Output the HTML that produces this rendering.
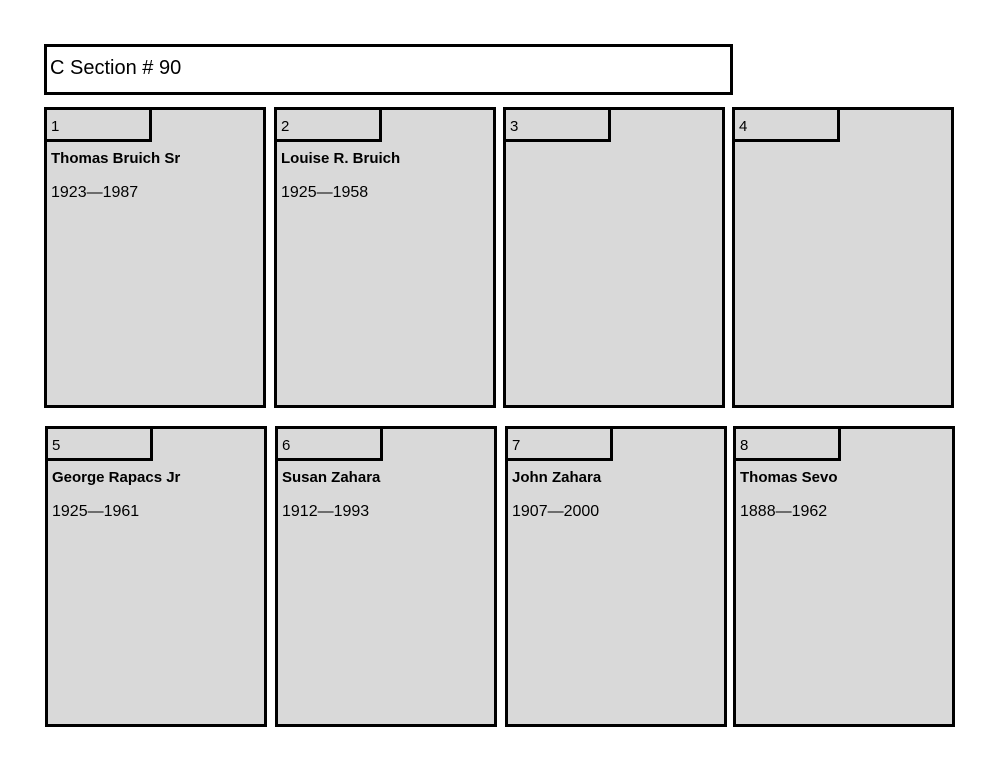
<!DOCTYPE html>
<html><head><meta charset="utf-8"><style>
body{margin:0;width:1000px;height:773px;background:#fff;position:relative;font-family:"Liberation Sans",sans-serif;color:#000;overflow:hidden}
.t{position:absolute;left:44px;top:44px;width:683px;height:45px;border:3px solid #000;font-size:20px}
.t span{position:absolute;left:3px;top:10px}
.c{position:absolute;width:216px;height:295px;border:3px solid #000;background:#d9d9d9;box-sizing:content-box}
.tab{position:absolute;left:0;top:0;width:102px;height:29px;border-right:3px solid #000;border-bottom:3px solid #000}
.n{position:absolute;left:4px;top:8px;font-size:15px}
.nm{position:absolute;left:4px;top:40px;font-size:15px;font-weight:bold}
.d{position:absolute;left:4px;top:74px;font-size:16px}
</style></head><body>
<div class="t"><span>C Section # 90</span></div>
<div class="c" style="left:44px;top:107px"><div class="tab"></div><div class="n">1</div><div class="nm">Thomas Bruich Sr</div><div class="d">1923—1987</div></div>
<div class="c" style="left:274px;top:107px"><div class="tab"></div><div class="n">2</div><div class="nm">Louise R. Bruich</div><div class="d">1925—1958</div></div>
<div class="c" style="left:503px;top:107px"><div class="tab"></div><div class="n">3</div></div>
<div class="c" style="left:732px;top:107px"><div class="tab"></div><div class="n">4</div></div>
<div class="c" style="left:45px;top:426px"><div class="tab"></div><div class="n">5</div><div class="nm">George Rapacs Jr</div><div class="d">1925—1961</div></div>
<div class="c" style="left:275px;top:426px"><div class="tab"></div><div class="n">6</div><div class="nm">Susan Zahara</div><div class="d">1912—1993</div></div>
<div class="c" style="left:505px;top:426px"><div class="tab"></div><div class="n">7</div><div class="nm">John Zahara</div><div class="d">1907—2000</div></div>
<div class="c" style="left:733px;top:426px"><div class="tab"></div><div class="n">8</div><div class="nm">Thomas Sevo</div><div class="d">1888—1962</div></div>
</body></html>
